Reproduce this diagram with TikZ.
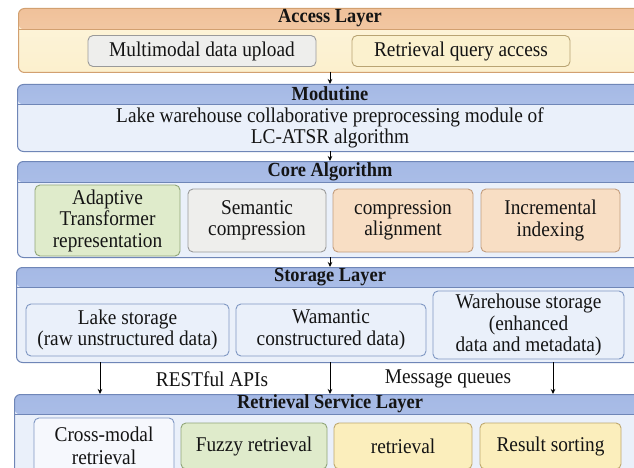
\documentclass[tikz,border=0pt]{standalone}
\usepackage{fontspec}
\setmainfont{Liberation Serif}[FakeStretch=0.92]
\usetikzlibrary{arrows.meta}
\definecolor{accHeadTop}{HTML}{F0C19A}
\definecolor{accHeadBot}{HTML}{F5D3B2}
\definecolor{accBody}{HTML}{FCF0CD}
\definecolor{accBorder}{HTML}{D2A070}
\definecolor{bluHeadTop}{HTML}{A5B9E5}
\definecolor{bluHeadBot}{HTML}{BACBEE}
\definecolor{bluBody}{HTML}{EAF0FA}
\definecolor{bluBorder}{HTML}{6F86B7}
\definecolor{grayFill}{HTML}{EEEEEC}
\definecolor{grayLine}{HTML}{9A9A9A}
\definecolor{yelFill}{HTML}{FBF1CE}
\definecolor{yelLine}{HTML}{B9A473}
\definecolor{grnFill}{HTML}{DFEBCB}
\definecolor{grnLine}{HTML}{90A578}
\definecolor{pchFill}{HTML}{F8DEC4}
\definecolor{pchLine}{HTML}{C29D7E}
\definecolor{lbFill}{HTML}{EAF0FA}
\definecolor{lbLine}{HTML}{7F97C3}
\definecolor{wbFill}{HTML}{F6F8FD}
\definecolor{ylFill}{HTML}{FBEEBC}
\definecolor{ylLine}{HTML}{BFA86F}
\definecolor{txt}{HTML}{141414}
\tikzset{
  layerbox/.style={rectangle, rounded corners=6pt, line width=1pt, anchor=north west, inner sep=0pt},
  acchead/.style={path picture={
     \shade[top color=accHeadTop, bottom color=accHeadBot] (path picture bounding box.north west) rectangle ([yshift=-#1]path picture bounding box.north east);
     \draw[accBorder, line width=1pt] ([yshift=-#1]path picture bounding box.north west) -- ([yshift=-#1]path picture bounding box.north east);}},
  bluhead/.style={path picture={
     \shade[top color=bluHeadTop, bottom color=bluHeadBot] (path picture bounding box.north west) rectangle ([yshift=-#1]path picture bounding box.north east);
     \draw[bluBorder, line width=1pt] ([yshift=-#1]path picture bounding box.north west) -- ([yshift=-#1]path picture bounding box.north east);}},
  title/.style={font=\fontsize{20}{20}\selectfont\bfseries, text=txt, inner sep=0pt},
  bodytext/.style={font=\fontsize{21}{21}\selectfont, text=txt, align=center, inner sep=0pt},
  ibox/.style={rectangle, rounded corners=5pt, line width=0.9pt, align=center, inner sep=0pt,
     font=\fontsize{21}{21.5}\selectfont, text=txt},
  flow/.style={-{Stealth[length=5pt,width=4.5pt]}, line width=0.9pt, black},
  lbl/.style={font=\fontsize{21}{21}\selectfont, text=txt, inner sep=0pt}
}
\begin{document}
\begin{tikzpicture}[x=1pt,y=-1pt]
\useasboundingbox (0,0) rectangle (634,468);
\clip (0,0) rectangle (634,468);
\fill[white] (0,0) rectangle (634,468);

% ---------- Access Layer ----------
\node[layerbox, draw=accBorder, top color=accBody!70!white, bottom color=accBody, acchead=21pt,
      minimum width=650pt, minimum height=64pt] (access) at (18,8) {};
\node[title] (accessT) at (330,18.5) {Access Layer};
\node[ibox, draw=grayLine, fill=grayFill, minimum width=228pt, minimum height=31pt] (upload) at (202,51) {Multimodal data upload};
\node[ibox, draw=yelLine, fill=yelFill, minimum width=218pt, minimum height=31pt] (query) at (461,51) {Retrieval query access};

% ---------- Modutine ----------
\node[layerbox, draw=bluBorder, fill=bluBody, bluhead=20pt,
      minimum width=650pt, minimum height=67pt] (modu) at (17,84) {};
\node[title] (moduT) at (330,94) {Modutine};
\node[bodytext] (moduText) at (330,127.5) {Lake warehouse collaborative preprocessing module of\\LC-ATSR algorithm};

% ---------- Core Algorithm ----------
\node[layerbox, draw=bluBorder, fill=bluBody, bluhead=21pt,
      minimum width=650pt, minimum height=96pt] (core) at (17,161) {};
\node[title] (coreT) at (330,171.5) {Core Algorithm};
\node[ibox, draw=grnLine, fill=grnFill, minimum width=145pt, minimum height=71pt] (adapt) at (107.5,220.5) {Adaptive\\Transformer\\representation};
\node[ibox, draw=grayLine, fill=grayFill, minimum width=138pt, minimum height=63pt] (semc) at (257,220.5) {Semantic\\compression};
\node[ibox, draw=pchLine, fill=pchFill, minimum width=140pt, minimum height=63pt] (calign) at (403,220.5) {compression\\alignment};
\node[ibox, draw=pchLine, fill=pchFill, minimum width=139pt, minimum height=63pt] (incr) at (550.5,220.5) {Incremental\\indexing};

% ---------- Storage Layer ----------
\node[layerbox, draw=bluBorder, fill=bluBody, bluhead=20pt,
      minimum width=650pt, minimum height=95pt] (stor) at (16,267) {};
\node[title] (storT) at (330,277) {Storage Layer};
\node[ibox, draw=lbLine, fill=lbFill, minimum width=203pt, minimum height=52pt] (lake) at (127.5,330) {Lake storage\\(raw unstructured data)};
\node[ibox, draw=lbLine, fill=lbFill, minimum width=190pt, minimum height=52pt] (wam) at (331,330) {Wamantic\\constructured data)};
\node[ibox, draw=lbLine, fill=lbFill, minimum width=191pt, minimum height=68pt] (ware) at (528.5,325) {Warehouse storage\\(enhanced\\data and metadata)};

% ---------- Retrieval Service Layer ----------
\node[layerbox, draw=bluBorder, fill=bluBody, bluhead=20pt,
      minimum width=650pt, minimum height=100pt] (retr) at (14,394) {};
\node[title] (retrT) at (330,404) {Retrieval Service Layer};
\node[ibox, draw=lbLine, fill=wbFill, minimum width=140pt, minimum height=56pt, font=\fontsize{21}{23.5}\selectfont] (cross) at (104,446) {Cross-modal\\retrieval};
\node[ibox, draw=grnLine, fill=grnFill, minimum width=146pt, minimum height=46pt] (fuzzy) at (254,446) {Fuzzy retrieval};
\node[ibox, draw=ylLine, fill=ylFill, minimum width=138pt, minimum height=46pt] (retv) at (403,446) {retrieval};
\node[ibox, draw=ylLine, fill=ylFill, minimum width=141pt, minimum height=46pt] (sort) at (550.5,446) {Result sorting};

% ---------- connectors ----------
\coordinate (a1) at (330,72);  \coordinate (a2) at (330,84);
\coordinate (b1) at (330,151); \coordinate (b2) at (330,161);
\coordinate (c1) at (330,257); \coordinate (c2) at (330,267);
\coordinate (d1) at (100,362); \coordinate (d2) at (100,394);
\coordinate (e1) at (330,362); \coordinate (e2) at (330,394);
\coordinate (f1) at (553,362); \coordinate (f2) at (553,394);
\draw[flow] (a1) -- (a2);
\draw[flow] (b1) -- (b2);
\draw[flow] (c1) -- (c2);
\draw[flow] (d1) -- (d2);
\draw[flow] (e1) -- (e2);
\draw[flow] (f1) -- (f2);
\node[lbl] (rest) at (212,379) {RESTful APIs};
\node[lbl] (mq) at (448,379) {Message queues};
\end{tikzpicture}
\end{document}
